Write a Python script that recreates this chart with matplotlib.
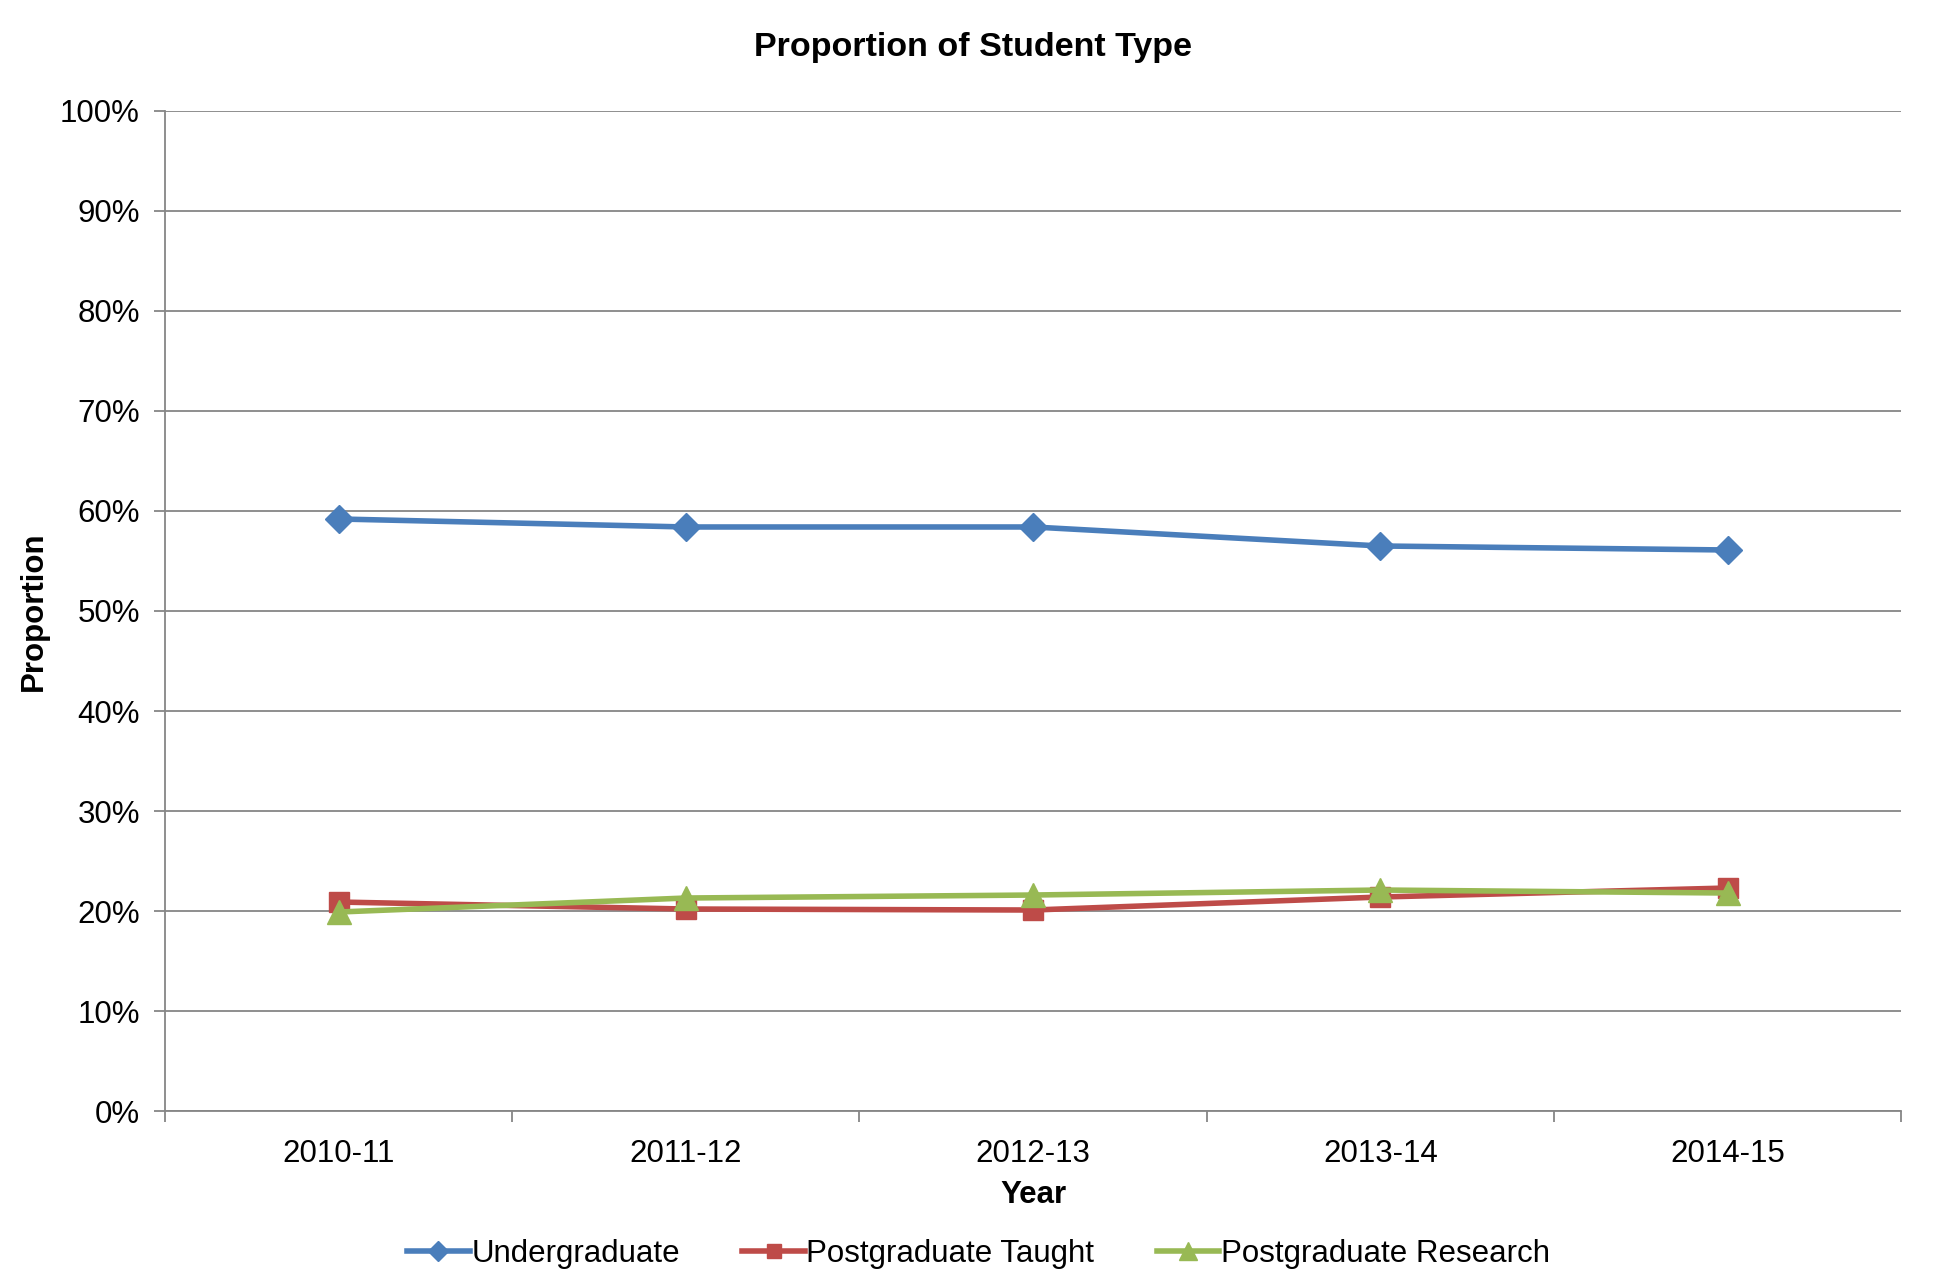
import matplotlib.pyplot as plt
from matplotlib.ticker import FixedLocator

plt.rcParams['font.family'] = ['Liberation Sans', 'DejaVu Sans']

# data
years = ['2010-11', '2011-12', '2012-13', '2013-14', '2014-15']
undergraduate = [59.2, 58.4, 58.4, 56.5, 56.1]
pg_taught = [20.9, 20.2, 20.1, 21.4, 22.3]
pg_research = [19.9, 21.3, 21.6, 22.1, 21.8]

fig = plt.figure(figsize=(19.34, 12.84), dpi=100)
ax = fig.add_axes([0.0853, 0.1347, 0.8977, 0.7789])

x = [i + 0.5 for i in range(len(years))]
ax.plot(x, undergraduate, color='#4A7EBB', lw=4, marker='D', ms=14,
        label='Undergraduate', zorder=3)
ax.plot(x, pg_taught, color='#BE4B48', lw=4, marker='s', ms=14,
        label='Postgraduate Taught', zorder=3)
ax.plot(x, pg_research, color='#98B954', lw=4, marker='^', ms=17,
        label='Postgraduate Research', zorder=4)

ax.set_xlim(0, len(years))
ax.set_ylim(0, 100)
ax.set_xticks(x)
ax.set_xticklabels(years)
ax.xaxis.set_minor_locator(FixedLocator(range(len(years) + 1)))
ax.set_yticks(range(0, 101, 10))
ax.set_yticklabels([f'{v}%' for v in range(0, 101, 10)])

ax.tick_params(axis='x', which='major', length=0, labelsize=22.5, pad=20)
ax.tick_params(axis='x', which='minor', length=8, color='#868686', width=1.3)
ax.tick_params(axis='y', length=8, color='#868686', width=1.3, labelsize=22.5, pad=10)

ax.grid(axis='y', color='#868686', lw=1.3)
ax.set_axisbelow(True)
for side in ['top', 'right']:
    ax.spines[side].set_visible(False)
for side in ['left', 'bottom']:
    ax.spines[side].set_color('#868686')
    ax.spines[side].set_linewidth(1.3)

fig.suptitle('Proportion of Student Type', fontsize=24.5, fontweight='bold',
             x=0.503, y=0.975, va='top')
ax.set_xlabel('Year', fontsize=22.5, fontweight='bold', labelpad=8)
ax.set_ylabel('Proportion', fontsize=22.5, fontweight='bold', labelpad=8)

fig.legend(loc='lower center', bbox_to_anchor=(0.506, -0.01), ncol=3, frameon=False,
           fontsize=22.5, handlelength=2.0, handletextpad=0.05, columnspacing=2.0,
           markerscale=0.75)

fig.savefig('out.png', dpi=100)
